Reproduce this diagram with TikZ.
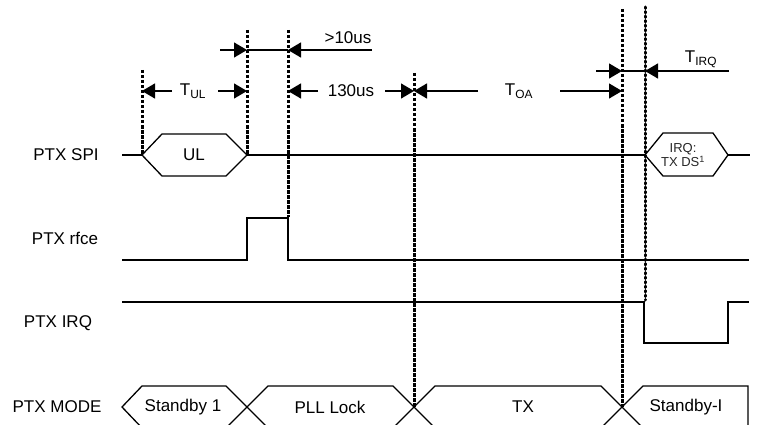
\documentclass[tikz,border=0pt]{standalone}
\usepackage{fontspec}
\setmainfont{Liberation Sans}
\usetikzlibrary{arrows.meta}
\tikzset{
  sig/.style={line width=1.3pt, line join=miter},
  markline/.style={line width=3pt, dash pattern=on 3.5pt off 1.5pt},
  dotline/.style={line width=3pt, line cap=round, dash pattern=on 1.5pt off 3pt},
  dimarrow/.style={line width=1.3pt, -{Triangle[length=13pt,width=15pt]}},
  lab/.style={font=\fontsize{17}{20}\selectfont, inner sep=0pt},
  small/.style={font=\fontsize{13}{15}\selectfont, inner sep=0pt, text=black!85, align=center},
}
\begin{document}
\begin{tikzpicture}[x=1pt,y=-1pt]
\useasboundingbox (0,0) rectangle (757,425);
\clip (0,0) rectangle (757,425);
% signal labels
\node[lab] (lspi) at (66,155) {PTX SPI};
\node[lab] (lrfce) at (65,238) {PTX rfce};
\node[lab] (lirq) at (58,323) {PTX IRQ};
\node[lab] (lmode) at (57,407) {PTX MODE};
% marker coordinates
\coordinate (a1) at (142,70);  \coordinate (a2) at (142,155);
\coordinate (b1) at (247,30);  \coordinate (b2) at (247,155);
\coordinate (c1) at (288,30);  \coordinate (c2) at (288,217);
\coordinate (d1) at (414,73);  \coordinate (d2) at (414,407);
\coordinate (e1) at (622,9);   \coordinate (e2) at (622,407);
\coordinate (f1) at (645,7);   \coordinate (f2) at (645,300);
% marker lines
\draw[markline] (a1) -- (a2);
\draw[markline] (b1) -- (b2);
\draw[markline] (c1) -- (c2);
\draw[markline] (d1) -- (d2);
\draw[markline] (e1) -- (e2);
\draw[dotline] (f1) -- (f2);
% PTX SPI
\draw[sig] (122,155) -- (142,155);
\draw[sig] (142,155) -- (162,134) -- (226,134) -- (247,155) -- (226,176) -- (162,176) -- cycle;
\draw[sig] (247,155) -- (645,155);
\draw[sig] (645,155) -- (663,133) -- (713,133) -- (728,155) -- (713,176) -- (663,176) -- cycle;
\draw[sig] (728,155) -- (750,155);
\node[lab] (ul) at (194,155) {UL};
\node[small] (irqtx) at (683,155) {IRQ:\\[-1pt]TX DS\textsuperscript{1}};
% PTX rfce
\draw[sig] (122,260) -- (247,260) -- (247,218) -- (288,218) -- (288,260) -- (749,260);
% PTX IRQ
\draw[sig] (122,302) -- (644,302) -- (644,343) -- (728,343) -- (728,302) -- (749,302);
% PTX MODE
\draw[sig] (142,428) -- (122,407) -- (142,386) -- (226,386) -- (268,428);
\draw[sig] (226,428) -- (268,386) -- (393,386) -- (435,428);
\draw[sig] (393,428) -- (435,386) -- (601,386) -- (643,428);
\draw[sig] (601,428) -- (643,386) -- (748,386) -- (748,428);
\node[lab] (m1) at (183,407) {Standby 1};
\node[lab] (m2) at (330,407) {PLL Lock};
\node[lab] (m3) at (523,407) {TX};
\node[lab] (m4) at (686,407) {Standby-I};
% T_UL
\coordinate (tul1) at (172,91); \coordinate (tul2) at (218,91);
\draw[dimarrow] (tul1) -- (142,91);
\draw[dimarrow] (tul2) -- (247,91);
\node[lab] (tul) at (193,91) {T\textsubscript{UL}};
% >10us
\coordinate (g1) at (220,50); \coordinate (g2) at (372,50);
\draw[dimarrow] (g1) -- (247,50);
\draw[line width=1.3pt] (247,50) -- (288,50);
\draw[dimarrow] (g2) -- (288,50);
\node[lab] (t10) at (348,38) {>10us};
% 130us
\coordinate (h1) at (318,91); \coordinate (h2) at (385,91);
\draw[dimarrow] (h1) -- (288,91);
\draw[dimarrow] (h2) -- (414,91);
\node[lab] (t130) at (351,91) {130us};
% T_OA
\coordinate (k1) at (478,91); \coordinate (k2) at (560,91);
\draw[dimarrow] (k1) -- (414,91);
\draw[dimarrow] (k2) -- (622,91);
\node[lab] (toa) at (519,91) {T\textsubscript{OA}};
% T_IRQ
\coordinate (q1) at (596,71); \coordinate (q2) at (729,71);
\draw[dimarrow] (q1) -- (622,71);
\draw[line width=1.3pt] (622,71) -- (645,71);
\draw[dimarrow] (q2) -- (645,71);
\node[lab] (tirq) at (701,59) {T\textsubscript{IRQ}};
\end{tikzpicture}
\end{document}
